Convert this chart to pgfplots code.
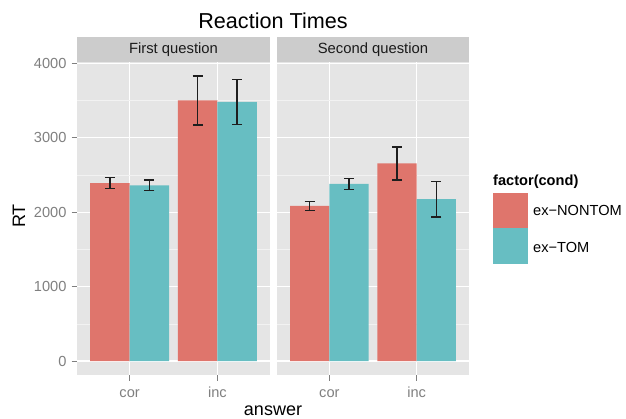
\documentclass[border=0pt]{standalone}
\usepackage{pgfplots}
\pgfplotsset{compat=1.18}
\usepackage{fontspec}
\setmainfont{Liberation Sans}
\definecolor{redc}{RGB}{223,117,108}
\definecolor{tealc}{RGB}{103,190,194}
\definecolor{panelbg}{RGB}{229,229,229}
\definecolor{stripbg}{RGB}{204,204,204}
\definecolor{minorg}{RGB}{242,242,242}
\definecolor{tickc}{RGB}{127,127,127}
\definecolor{errc}{RGB}{30,30,30}
\pgfplotsset{facet/.style={
  scale only axis, width=193pt, height=313pt,
  xmin=0.4, xmax=2.6, ymin=-188, ymax=4017,
  axis background/.style={fill=panelbg},
  axis line style={draw=none},
  xtick={1,2}, xticklabels={cor,inc},
  ytick={0,1000,2000,3000,4000},
  minor ytick={500,1500,2500,3500},
  grid=both,
  major grid style={white, line width=1.1pt},
  minor grid style={minorg, line width=0.55pt},
  tick align=outside, major tick length=5.5pt, minor tick length=0pt,
  tick style={tickc, line width=0.9pt},
  tick pos=left,
  tick label style={font=\fontsize{14.6}{17}\selectfont, text=tickc},
  yticklabel style={xshift=-1.5pt},
  xticklabel style={text height=10.5pt, text depth=3pt, yshift=-2.5pt},
  /pgf/number format/assume math mode=true,
  /pgf/number format/1000 sep={},
  ybar, bar width=0.45,
  every axis plot/.append style={draw=none},
  error bars/y dir=both, error bars/y explicit,
  error bars/error bar style={draw=errc, line width=1.3pt},
  error bars/error mark options={draw=errc, line width=1.3pt, mark size=5pt, rotate=90},
}}
\begin{document}
\begin{tikzpicture}[x=1pt,y=1pt]
\useasboundingbox (0,0) rectangle (626,418);
% panel 1
\begin{axis}[facet, at={(77pt,43pt)}, anchor=south west]
\addplot[fill=redc, bar shift=-0.225] coordinates {(1,2390) +- (0,75) (2,3500) +- (0,328)};
\addplot[fill=tealc, bar shift=0.225] coordinates {(1,2361) +- (0,72) (2,3480) +- (0,300)};
\end{axis}
% panel 2
\begin{axis}[facet, at={(277pt,43pt)}, anchor=south west, width=192pt,
  yticklabels={}, ytick style={draw=none}]
\addplot[fill=redc, bar shift=-0.225] coordinates {(1,2085) +- (0,61) (2,2655) +- (0,222)};
\addplot[fill=tealc, bar shift=0.225] coordinates {(1,2379) +- (0,76) (2,2175) +- (0,240)};
\end{axis}
% strips
\fill[stripbg] (77,356) rectangle (270,381);
\fill[stripbg] (277,356) rectangle (469,381);
\node[font=\fontsize{14.8}{17}\selectfont, text={rgb,255:red,26;green,26;blue,26}] at (173.5,368.5) {First question};
\node[font=\fontsize{14.8}{17}\selectfont, text={rgb,255:red,26;green,26;blue,26}] at (373,368.5) {Second question};
% titles
\node[font=\fontsize{21.6}{24}\selectfont, anchor=base] at (273,389) {Reaction Times};
\node[font=\fontsize{18}{21}\selectfont, anchor=base] at (273,3) {answer};
\node[font=\fontsize{18}{21}\selectfont, anchor=base, rotate=90] at (25,202) {RT};
% legend
\node[font=\bfseries\fontsize{14.6}{17}\selectfont, anchor=base west, inner sep=0pt] at (493,232) {factor(cond)};
\fill[redc] (493,190) rectangle (528,225);
\fill[tealc] (493,154) rectangle (528,190);
\node[font=\fontsize{14.6}{17}\selectfont, anchor=west, inner sep=0pt] at (533,208) {ex−NONTOM};
\node[font=\fontsize{14.6}{17}\selectfont, anchor=west, inner sep=0pt] at (533,171) {ex−TOM};
\end{tikzpicture}
\end{document}
